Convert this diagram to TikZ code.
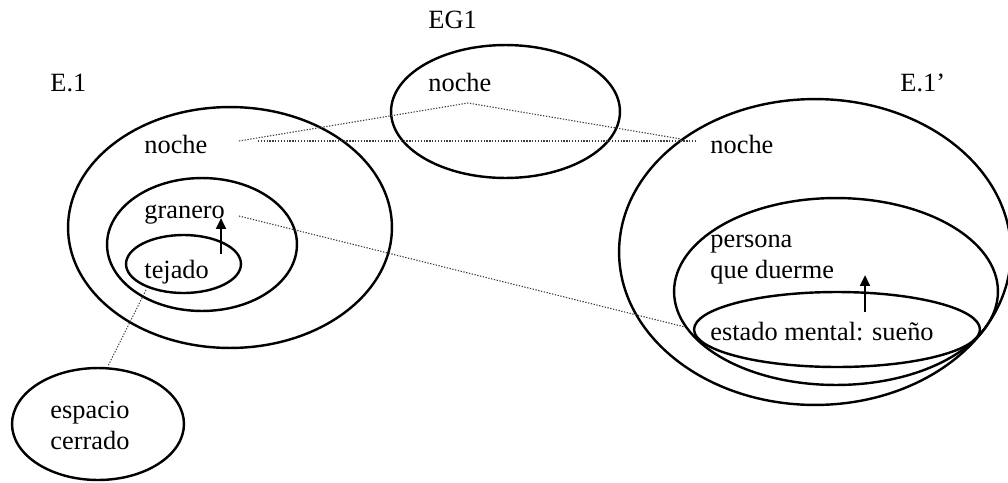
\documentclass[tikz,border=0pt]{standalone}
\usepackage{fontspec}
\setmainfont{Liberation Serif}
\usetikzlibrary{arrows.meta, shapes.geometric}

\begin{document}
\begin{tikzpicture}[
    x=0.016cm, y=-0.016cm,
    ring/.style={draw, ellipse, line width=1.1pt, inner sep=0pt},
    lbl/.style={font=\fontsize{12}{14.1}\selectfont, inner sep=0pt,
                align=left, anchor=base west},
    link/.style={line width=0.5pt, black!75, dash pattern=on 0.6pt off 0.7pt},
    arr/.style={-{Triangle[length=5pt, width=4.5pt]}, line width=1.1pt}
]
\useasboundingbox (0,0) rectangle (1008,482);

% Ellipses
\node[ring, minimum width=3.664cm, minimum height=2.128cm] (eg)      at (505.5,111.5) {};
\node[ring, minimum width=5.184cm, minimum height=3.856cm] (eone)    at (230,227.5)   {};
\node[ring, minimum width=3.04cm,  minimum height=2.128cm] (granero) at (202,244.5)   {};
\node[ring, minimum width=1.84cm,  minimum height=0.928cm] (tejado)  at (183.5,264)   {};
\node[ring, minimum width=2.752cm, minimum height=1.792cm] (espacio) at (98,424)      {};
\node[ring, minimum width=6.272cm, minimum height=4.896cm] (eonep)   at (815,252)     {};
\node[ring, minimum width=5.184cm, minimum height=2.992cm] (persona) at (836,291.5)   {};
\node[ring, minimum width=4.576cm, minimum height=1.2cm]   (estado)  at (837,329.5)   {};

% Labels (two-line ones sit on the baseline of their last line)
\node[lbl] (tEG)   at (428,28)  {EG1};
\node[lbl] (tE)    at (50,91)   {E.1};
\node[lbl] (tEp)   at (900,91)  {E.1’};
\node[lbl] (tN0)   at (428,91)  {noche};
\node[lbl] (tN1)   at (144,153) {noche};
\node[lbl] (tGra)  at (144,218) {granero};
\node[lbl] (tTej)  at (144,278) {tejado};
\node[lbl] (tEsp)  at (50,449)  {espacio\\cerrado};
\node[lbl] (tN2)   at (710,153) {noche};
\node[lbl] (tPer)  at (710,278) {persona\\que duerme};
\node[lbl] (tEst)  at (710,340) {estado mental: sueño};

% Link ends
\coordinate (nA)   at (239,141);
\coordinate (nB)   at (258,141);
\coordinate (nTop) at (468,103);
\coordinate (nC)   at (681,139);
\coordinate (nD)   at (695,141);
\coordinate (gA)   at (239,216);
\coordinate (gB)   at (685,327);
\coordinate (tA)   at (146,290);
\coordinate (tB)   at (108,366);
\coordinate (u1)   at (221,254);
\coordinate (u2)   at (221,218);
\coordinate (v1)   at (865,312);
\coordinate (v2)   at (865,275);

% Dotted links
\draw[link] (nA) -- (nTop) -- (nC);
\draw[link] (nB) -- (nD);
\draw[link] (gA) -- (gB);
\draw[link] (tA) -- (tB);

% Arrows
\draw[arr] (u1) -- (u2);
\draw[arr] (v1) -- (v2);

\end{tikzpicture}
\end{document}
